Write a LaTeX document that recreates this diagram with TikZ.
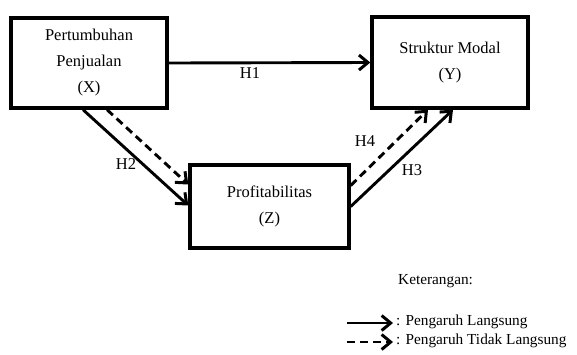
\documentclass[tikz,border=0pt]{standalone}
\usepackage{fontspec}
\setmainfont{Liberation Serif}
\usetikzlibrary{arrows.meta}
\begin{document}
\begin{tikzpicture}[x=1pt,y=-1pt,
  box/.style={draw,line width=3.4pt,inner sep=0pt,align=center,font=\fontsize{16.5}{26}\selectfont},
  con/.style={line width=2.9pt,-{Straight Barb[length=9pt,width=15pt,line width=3pt]}},
  dashcon/.style={con,dash pattern=on 8pt off 5pt},
  lab/.style={font=\fontsize{16.5}{18}\selectfont,inner sep=0pt},
  leg/.style={font=\fontsize{15.3}{18}\selectfont,inner sep=0pt}]
\useasboundingbox (0,0) rectangle (577,354);
\node[box,minimum width=156pt,minimum height=90pt] (X) at (89,63) {Pertumbuhan\\Penjualan\\(X)};
\node[box,minimum width=156pt,minimum height=91pt] (Y) at (450,62.5) {Struktur Modal\\(Y)};
\node[box,minimum width=159pt,minimum height=83pt] (Z) at (269.5,206.5) {Profitabilitas\\(Z)};
\draw[con] (X.east) -- (Y.west);
\draw[con] ([xshift=-6pt]X.south) -- ([yshift=1pt]Z.west);
\draw[dashcon] ([xshift=18pt]X.south) -- ([yshift=22pt]Z.west);
\draw[con] (Z.east) -- ([xshift=3pt]Y.south);
\draw[dashcon] ([yshift=21pt]Z.east) -- ([xshift=-22pt]Y.south);
\node[lab] (h1) at (250,73) {H1};
\node[lab] (h2) at (126,164) {H2};
\node[lab] (h4) at (365,141) {H4};
\node[lab] (h3) at (412,170) {H3};
\node[leg,anchor=west] (ket) at (398,281) {Keterangan:};
\coordinate (s1) at (347,323);
\coordinate (s2) at (393,323);
\coordinate (d1) at (347,342);
\coordinate (d2) at (393,342);
\draw[con] (s1) -- (s2);
\draw[dashcon] (d1) -- (d2);
\node[leg,anchor=west] (l1) at (396,322) {: Pengaruh Langsung};
\node[leg,anchor=west] (l2) at (396,341) {: Pengaruh Tidak Langsung};
\end{tikzpicture}
\end{document}
